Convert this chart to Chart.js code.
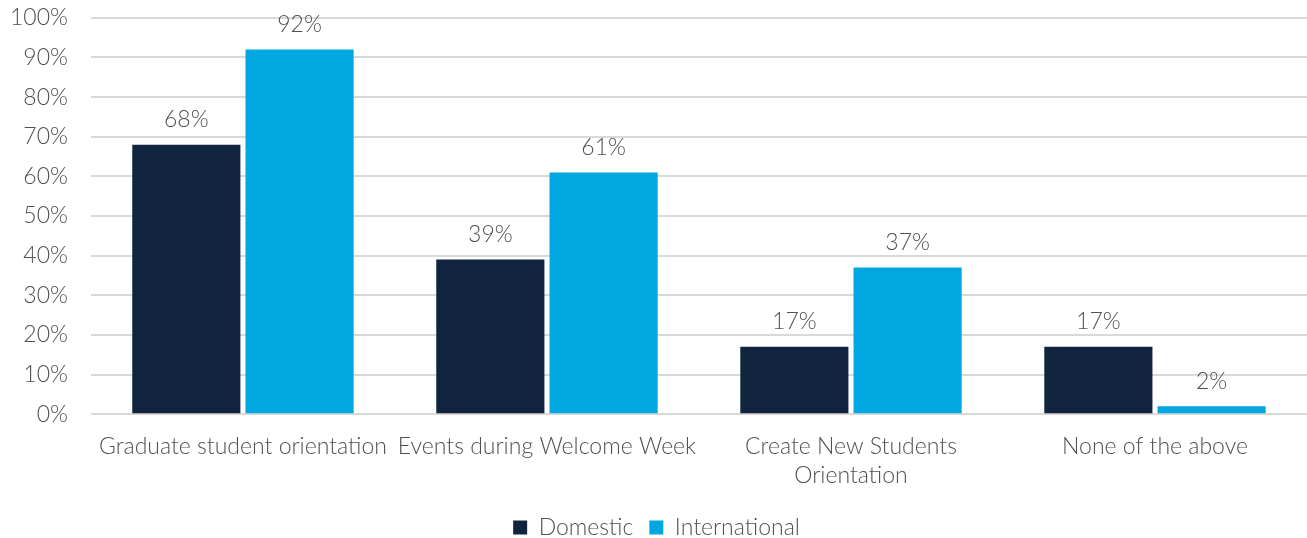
<html>
<head>
<script src="https://cdn.jsdelivr.net/npm/chart.js"></script>
<style>
    body { margin: 0; background: #fff; }
    #wrap { width: 1307px; height: 538px; }
</style>
</head>
<body>
<div id="wrap"><canvas id="chart"></canvas></div>
<script>
    const categories = [
        'Graduate student orientation',
        'Events during Welcome Week',
        ['Create New Students', 'Orientation'],
        'None of the above'
    ];
    const domestic = [68, 39, 17, 17];
    const international = [92, 61, 37, 2];
    const yTicks = [0, 10, 20, 30, 40, 50, 60, 70, 80, 90, 100];

    const textColor = '#505050';
    const baseFont = { family: 'Lato, "Open Sans", sans-serif', size: 23, weight: 300 };

    // writes the percentage above each bar
    const valueLabels = {
        id: 'valueLabels',
        afterDatasetsDraw(chart) {
            const ctx = chart.ctx;
            ctx.save();
            ctx.fillStyle = textColor;
            ctx.font = '300 23px ' + baseFont.family;
            ctx.textAlign = 'center';
            ctx.textBaseline = 'middle';
            chart.data.datasets.forEach((ds, i) => {
                chart.getDatasetMeta(i).data.forEach((bar, j) => {
                    ctx.fillText(ds.data[j] + '%', bar.x, bar.y - 25);
                });
            });
            ctx.restore();
        }
    };

    new Chart(document.getElementById('chart'), {
        type: 'bar',
        data: {
            labels: categories,
            datasets: [{
                label: 'Domestic',
                data: domestic,
                backgroundColor: '#10233f',
                categoryPercentage: 0.745,
                barPercentage: 0.955
            }, {
                label: 'International',
                data: international,
                backgroundColor: '#00a7e0',
                categoryPercentage: 0.745,
                barPercentage: 0.955
            }]
        },
        options: {
            responsive: true,
            maintainAspectRatio: false,
            animation: false,
            layout: { padding: { top: 0, left: 6, right: 0, bottom: -11 } },
            plugins: {
                legend: {
                    position: 'bottom',
                    labels: {
                        color: textColor,
                        font: baseFont,
                        boxWidth: 14,
                        boxHeight: 14,
                        padding: 16
                    }
                },
                tooltip: { enabled: false }
            },
            scales: {
                x: {
                    grid: { display: false },
                    border: { display: false },
                    ticks: {
                        color: textColor,
                        font: Object.assign({ lineHeight: 1.3 }, baseFont),
                        maxRotation: 0,
                        autoSkip: false,
                        padding: 9
                    }
                },
                y: {
                    min: 0,
                    max: 100,
                    afterBuildTicks(axis) {
                        axis.ticks = yTicks.map(v => ({ value: v }));
                    },
                    grid: {
                        color: '#d9d9d9',
                        lineWidth: 2,
                        tickLength: 19,
                        tickColor: 'rgba(0,0,0,0)'
                    },
                    border: { display: false },
                    ticks: {
                        color: textColor,
                        font: baseFont,
                        padding: 4,
                        callback: v => v + '%'
                    }
                }
            }
        },
        plugins: [valueLabels]
    });
</script>
</body>
</html>
